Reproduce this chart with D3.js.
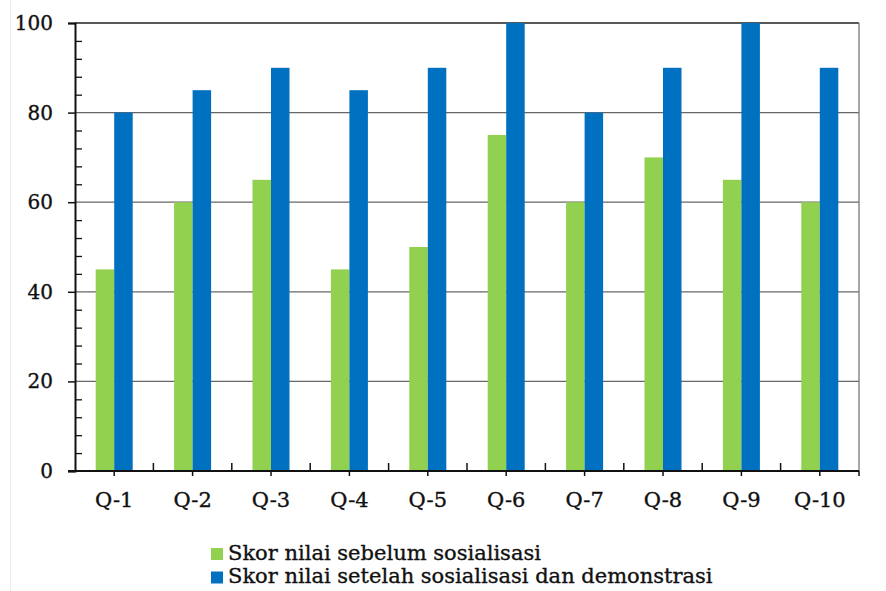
<!DOCTYPE html>
<html>
<head>
<meta charset="utf-8">
<script src="https://cdn.jsdelivr.net/npm/d3@7"></script>
<style>
  html, body { margin: 0; padding: 0; background: #fff; }
  svg { display: block; }
  text { font-family: "DejaVu Serif", serif; fill: #111; stroke: #111; stroke-width: 0.35px; }
</style>
</head>
<body>
<div id="chart"></div>
<script>
const categories = ["Q-1","Q-2","Q-3","Q-4","Q-5","Q-6","Q-7","Q-8","Q-9","Q-10"];
const before = [45, 60, 65, 45, 50, 75, 60, 70, 65, 60];
const after  = [80, 85, 90, 85, 90, 100, 80, 90, 100, 90];
const seriesNames = ["Skor nilai sebelum sosialisasi", "Skor nilai setelah sosialisasi dan demonstrasi"];
const seriesColors = ["#92D050", "#0070C0"];
const yTicks = [0, 20, 40, 60, 80, 100];

const W = 886, H = 591;
const m = { left: 75, right: 27, top: 23, bottom: 120 };

const svg = d3.select("#chart").append("svg").attr("width", W).attr("height", H);

// faint frame line on left
svg.append("line").attr("x1", 10.5).attr("x2", 10.5).attr("y1", 0).attr("y2", H)
  .attr("stroke", "#eeeeee").attr("stroke-width", 1);

const x = d3.scaleBand().domain(categories).range([m.left, W - m.right]).padding(0);
const y = d3.scaleLinear().domain([0, 100]).range([H - m.bottom, m.top]);
const bw = x.bandwidth() * 0.236;

// gridlines
svg.append("g").selectAll("line").data(yTicks.filter(d => d > 0)).join("line")
  .attr("x1", m.left).attr("x2", W - m.right)
  .attr("y1", d => y(d)).attr("y2", d => y(d))
  .attr("stroke", d => d === 100 ? "#222" : "#666").attr("stroke-width", d => d === 100 ? 1.5 : 1.2);

// right border
svg.append("line").attr("x1", W - m.right).attr("x2", W - m.right)
  .attr("y1", y(100)).attr("y2", y(0)).attr("stroke", "#777").attr("stroke-width", 1.3);

// bars
const data = categories.map((c, i) => ({ c, v: [before[i], after[i]] }));
const g = svg.append("g");
data.forEach(d => {
  d.v.forEach((v, k) => {
    const cx = x(d.c) + x.bandwidth() / 2;
    g.append("rect")
      .attr("x", k === 0 ? cx - bw : cx)
      .attr("width", bw)
      .attr("y", y(v))
      .attr("height", y(0) - y(v))
      .attr("fill", seriesColors[k]);
  });
});

// y axis
const yAxisMajor = d3.axisLeft(y).tickValues(yTicks).tickSize(7).tickPadding(15).tickFormat(d3.format("d"));
const ya = svg.append("g").attr("transform", `translate(${m.left},0)`).call(yAxisMajor);
ya.select(".domain").attr("stroke", "#111").attr("stroke-width", 2);
ya.selectAll(".tick line").attr("stroke", "#111").attr("stroke-width", 1.5);
ya.selectAll("text").style("font-size", "20px").attr("fill", "#111");

const minor = d3.range(0, 101, 4).filter(d => d % 20 !== 0);
const yAxisMinor = d3.axisRight(y).tickValues(minor).tickSize(7).tickFormat("");
const ym = svg.append("g").attr("transform", `translate(${m.left},0)`).call(yAxisMinor);
ym.select(".domain").remove();
ym.selectAll(".tick line").attr("stroke", "#111").attr("stroke-width", 1.3);

// x axis: center ticks down with labels
const xa = svg.append("g").attr("transform", `translate(0,${y(0)})`)
  .call(d3.axisBottom(x).tickSize(5).tickPadding(16).tickSizeOuter(0));
xa.select(".domain").remove();
xa.selectAll(".tick line").attr("stroke", "#111").attr("stroke-width", 1.5);
xa.selectAll("text").style("font-size", "21px").attr("fill", "#111");

// x axis line (extends left to major tick)
svg.append("line").attr("x1", m.left - 7).attr("x2", W - m.right)
  .attr("y1", y(0)).attr("y2", y(0)).attr("stroke", "#111").attr("stroke-width", 2);
// boundary ticks (up)
const bounds = categories.slice(1).map(c => x(c));
svg.append("g").selectAll("line").data(bounds).join("line")
  .attr("x1", d => d).attr("x2", d => d)
  .attr("y1", y(0)).attr("y2", y(0) - 8)
  .attr("stroke", "#111").attr("stroke-width", 1.5);
// right end tick (down)
svg.append("line").attr("x1", W - m.right).attr("x2", W - m.right)
  .attr("y1", y(0)).attr("y2", y(0) + 5).attr("stroke", "#111").attr("stroke-width", 1.5);

// legend
const lg = svg.append("g").attr("transform", "translate(211,548)");
seriesNames.forEach((n, i) => {
  const row = lg.append("g").attr("transform", `translate(0,${i * 23.5})`);
  row.append("rect").attr("width", 12).attr("height", 12).attr("fill", seriesColors[i]);
  row.append("text").attr("x", 17).attr("y", 11.5).style("font-size", "21px").text(n);
});
</script>
</body>
</html>
